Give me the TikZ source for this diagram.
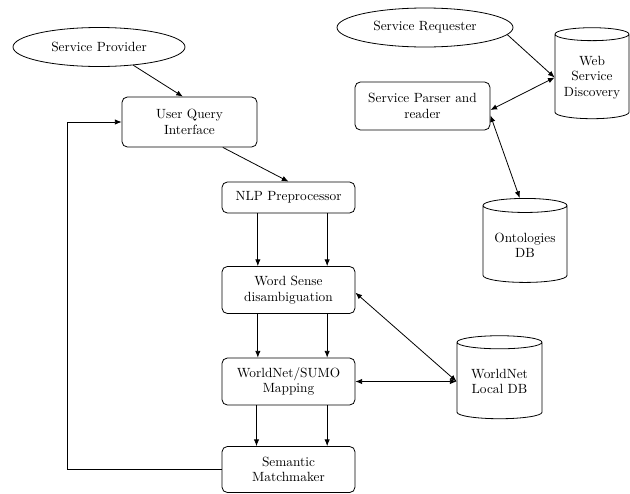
\documentclass[tikz,border=0pt]{standalone}
\usetikzlibrary{shapes.geometric}
\usetikzlibrary{arrows.meta}
\usetikzlibrary{positioning}

\tikzset{
  procbox/.style={draw, rounded corners=4pt, align=center, inner sep=1pt, minimum width=99.75pt},
  actor/.style={draw, ellipse, inner sep=0pt},
  store/.style={draw, cylinder, shape border rotate=90, aspect=0.22, align=center, inner sep=1pt},
  flow/.style={-{Latex[length=5pt,width=4pt]}},
  both/.style={{Latex[length=5pt,width=4pt]}-{Latex[length=5pt,width=4pt]}},
}

\begin{document}
\begin{tikzpicture}[x=0.75pt, y=-0.75pt, font=\fontsize{10}{11.5}\selectfont, semithick]
\useasboundingbox (0,0) rectangle (630,493);

% left column
\node[actor, minimum width=129pt, minimum height=29.25pt] (sp) at (99,47) {Service Provider};
\node[procbox, minimum width=101.25pt, minimum height=37.5pt] (uqi) at (189.5,122) {User Query\\Interface};
\node[procbox, minimum height=23.25pt] (nlp) at (288.5,197.5) {NLP Preprocessor};
\node[procbox, minimum height=35.25pt] (wsd) at (288.5,290) {Word Sense\\disambiguation};
\node[procbox, minimum height=35.25pt] (map) at (288.5,381.5) {WorldNet/SUMO\\Mapping};
\node[procbox, minimum height=34.5pt] (sem) at (288.5,469.5) {Semantic\\Matchmaker};
\node[store, minimum width=63.75pt, minimum height=62.25pt] (ldb) at (499.5,381.5) {WorldNet\\Local DB};

% right group
\node[actor, minimum width=132pt, minimum height=29.25pt] (sr) at (425,27.5) {Service Requester};
\node[store, minimum width=55.5pt, minimum height=68.25pt] (wsdisc) at (592,77.5) {Web\\Service\\Discovery};
\node[procbox, minimum width=101.25pt, minimum height=36pt] (parser) at (422.5,106) {Service Parser and\\reader};
\node[store, minimum width=63pt, minimum height=63pt] (ont) at (525,245) {Ontologies\\DB};

\coordinate (loop) at (67,470);

\draw[flow] (sp.-28) -- ([xshift=-5pt]uqi.north);
\draw[flow] ([xshift=25pt]uqi.south) -- (nlp.north);
\draw[flow] ([xshift=-23pt]nlp.south) -- ([xshift=-23pt]wsd.north);
\draw[flow] ([xshift=29pt]nlp.south) -- ([xshift=29pt]wsd.north);
\draw[flow] ([xshift=-23pt]wsd.south) -- ([xshift=-23pt]map.north);
\draw[flow] ([xshift=29pt]wsd.south) -- ([xshift=29pt]map.north);
\draw[flow] ([xshift=-24pt]map.south) -- ([xshift=-24pt]sem.north);
\draw[flow] ([xshift=29pt]map.south) -- ([xshift=29pt]sem.north);
\draw[flow] (sem.west) -- (sem.west -| loop) |- (uqi.west);
\draw[both] ([yshift=-2pt]wsd.east) -- (ldb.west);
\draw[both] (map.east) -- (ldb.west);

\draw[flow] (sr.-5) -- (wsdisc.west);
\draw[both] ([yshift=-3pt]parser.east) -- (wsdisc.west);
\draw[both] ([yshift=-7pt]parser.east) -- ([xshift=-4pt]ont.north);
\end{tikzpicture}
\end{document}
